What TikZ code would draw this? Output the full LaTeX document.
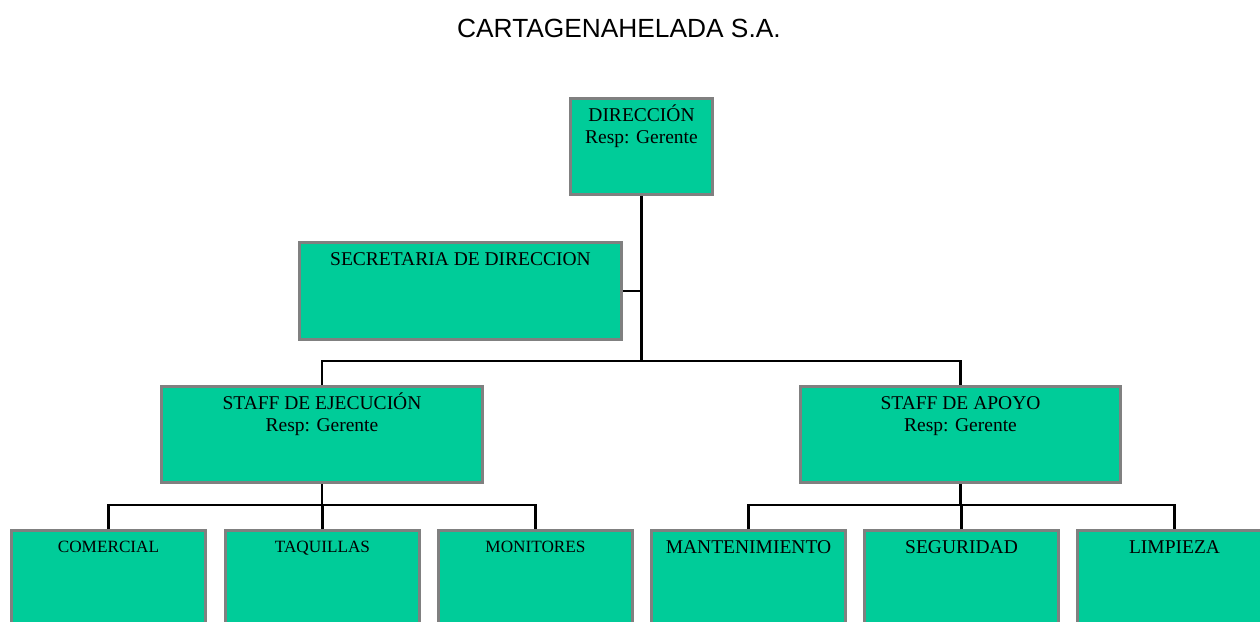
\documentclass[tikz,border=0pt]{standalone}
\usepackage{fontspec}
\setmainfont{Liberation Serif}
\newfontfamily\titlefont{Liberation Sans}
\definecolor{boxgreen}{HTML}{00CC99}
\definecolor{boxgray}{HTML}{808080}
\newcommand{\twolines}[2]{\begin{tabular}[t]{@{}c@{}}#1\\#2\end{tabular}}
\begin{document}
\begin{tikzpicture}[x=1pt,y=-1pt,
  box/.style={draw=boxgray, line width=3pt, fill=boxgreen, anchor=north west,
    inner sep=0pt, minimum width=#1},
  box/.default=194pt,
  lbl/.style={anchor=base, yshift=-24pt, inner sep=0pt,
    font=\fontsize{19.5}{22.5}\selectfont},
  slbl/.style={anchor=base, yshift=-23pt, inner sep=0pt,
    font=\fontsize{17.2}{20}\selectfont},
  conn/.style={draw=black, line width=2.6pt}]
\useasboundingbox (0,0) rectangle (1260,621);
% title
\node[anchor=base west, inner sep=0pt, font=\titlefont\fontsize{26.3}{30}\selectfont] (title) at (457,37) {CARTAGENAHELADA S.A.};
% top
\node[box=142pt, minimum height=96pt, label={[lbl]north:\twolines{DIRECCIÓN}{Resp: Gerente}}] (dir) at (569,97) {};
\node[box=322pt, minimum height=97pt, label={[lbl]north:SECRETARIA DE DIRECCION}] (sec) at (298,241) {};
% staff
\node[box=321pt, minimum height=96pt, label={[lbl]north:\twolines{STAFF DE EJECUCIÓN}{Resp: Gerente}}] (exe) at (160,385) {};
\node[box=320pt, minimum height=96pt, label={[lbl]north:\twolines{STAFF DE APOYO}{Resp: Gerente}}] (apo) at (799,385) {};
% bottom row
\node[box, minimum height=96pt, label={[slbl]north:COMERCIAL}] (c1) at (10,529) {};
\node[box, minimum height=96pt, label={[slbl]north:TAQUILLAS}] (c2) at (224,529) {};
\node[box, minimum height=96pt, label={[slbl]north:MONITORES}] (c3) at (437,529) {};
\node[box, minimum height=96pt, label={[lbl]north:MANTENIMIENTO}] (a1) at (650,529) {};
\node[box, minimum height=96pt, label={[lbl]north:SEGURIDAD}] (a2) at (863,529) {};
\node[box, minimum height=96pt, label={[lbl]north:LIMPIEZA}] (a3) at (1076,529) {};
% buses
\coordinate (bus1) at (dir.south |- 0,361);
\coordinate (bus2) at (exe.south |- 0,505);
\coordinate (bus3) at (apo.south |- 0,505);
% connectors
\draw[conn] (dir.south) -- (bus1);
\draw[conn] (sec.east) -- (sec.east -| bus1);
\draw[conn] (exe.north) |- (bus1);
\draw[conn] (apo.north) |- (bus1);
\draw[conn] (exe.south) -- (bus2);
\draw[conn] (c1.north) |- (bus2);
\draw[conn] (c2.north) |- (bus2);
\draw[conn] (c3.north) |- (bus2);
\draw[conn] (apo.south) -- (bus3);
\draw[conn] (a1.north) |- (bus3);
\draw[conn] (a2.north) |- (bus3);
\draw[conn] (a3.north) |- (bus3);
\end{tikzpicture}
\end{document}
